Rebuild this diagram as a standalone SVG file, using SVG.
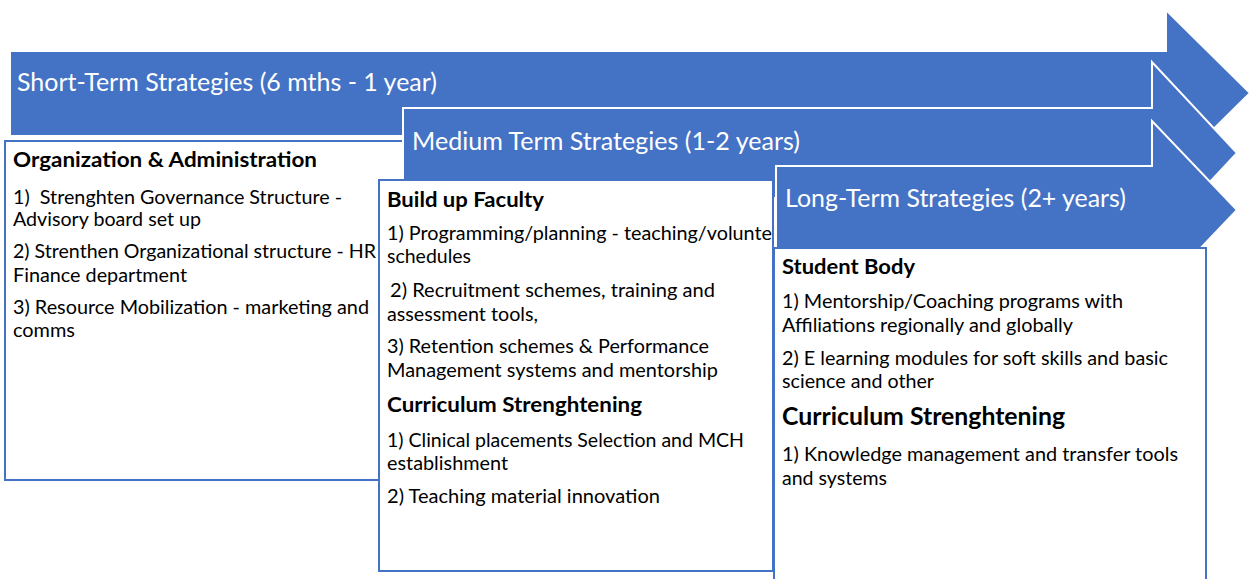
<svg xmlns="http://www.w3.org/2000/svg" width="1250" height="579" viewBox="0 0 1250 579">
  <style>
    .arrow { fill: #4472C4; stroke: #FFFFFF; stroke-width: 2; stroke-linejoin: miter; }
    .box { fill: #FFFFFF; stroke: #4472C4; stroke-width: 2; }
    .hdr { font-family: Lato, "Open Sans", sans-serif; font-size: 25px; fill: #FFFFFF; }
    .t { font-family: Lato, "Open Sans", sans-serif; font-size: 19.5px; fill: #000000; }
    .b { font-family: Lato, "Open Sans", sans-serif; font-size: 20.5px; font-weight: 700; fill: #000000; }
    .b2 { font-family: Lato, "Open Sans", sans-serif; font-size: 24px; font-weight: 700; fill: #000000; }
  </style>
  <rect width="1250" height="579" fill="#FFFFFF"/>

  <!-- Stage 1: short term -->
  <g id="stage-short">
    <g id="arrow-short">
      <polygon class="arrow" points="10,51 1166,51 1166,10 1250,93 1166,176 1166,136 10,136"/>
      <text class="hdr" x="17" y="91" textLength="420" lengthAdjust="spacingAndGlyphs">Short-Term Strategies (6 mths - 1 year)</text>
    </g>
    <g id="box-short">
      <rect class="box" x="5" y="141" width="398" height="339"/>
      <text class="b" x="13" y="167" textLength="304" lengthAdjust="spacingAndGlyphs">Organization &amp; Administration</text>
      <text class="t" x="13" y="204" textLength="329" lengthAdjust="spacingAndGlyphs" xml:space="preserve">1)  Strenghten Governance Structure -</text>
      <text class="t" x="13" y="226" textLength="188" lengthAdjust="spacingAndGlyphs">Advisory board set up</text>
      <text class="t" x="13" y="258" textLength="363" lengthAdjust="spacingAndGlyphs">2) Strenthen Organizational structure - HR</text>
      <text class="t" x="13" y="282" textLength="174" lengthAdjust="spacingAndGlyphs">Finance department</text>
      <text class="t" x="13" y="314" textLength="356" lengthAdjust="spacingAndGlyphs">3) Resource Mobilization - marketing and</text>
      <text class="t" x="13" y="337" textLength="62" lengthAdjust="spacingAndGlyphs">comms</text>
    </g>
  </g>

  <!-- Stage 2: medium term -->
  <g id="stage-medium">
    <g id="arrow-medium">
      <polygon class="arrow" points="403,108 1152,108 1152,62 1237,153 1152,244 1152,198 403,198"/>
      <text class="hdr" x="412" y="150" textLength="388" lengthAdjust="spacingAndGlyphs">Medium Term Strategies (1-2 years)</text>
    </g>
    <g id="box-medium">
      <rect class="box" x="379" y="180" width="394" height="391"/>
      <text class="b" x="387" y="207" textLength="157" lengthAdjust="spacingAndGlyphs">Build up Faculty</text>
      <text class="t" x="387" y="240" textLength="385" lengthAdjust="spacingAndGlyphs">1) Programming/planning - teaching/volunte</text>
      <text class="t" x="387" y="263" textLength="84" lengthAdjust="spacingAndGlyphs">schedules</text>
      <text class="t" x="390" y="297" textLength="325" lengthAdjust="spacingAndGlyphs">2) Recruitment schemes, training and</text>
      <text class="t" x="387" y="321" textLength="151" lengthAdjust="spacingAndGlyphs">assessment tools,</text>
      <text class="t" x="387" y="353" textLength="322" lengthAdjust="spacingAndGlyphs">3) Retention schemes &amp; Performance</text>
      <text class="t" x="387" y="377" textLength="331" lengthAdjust="spacingAndGlyphs">Management systems and mentorship</text>
      <text class="b" x="387" y="412" textLength="255" lengthAdjust="spacingAndGlyphs">Curriculum Strenghtening</text>
      <text class="t" x="387" y="447" textLength="357" lengthAdjust="spacingAndGlyphs">1) Clinical placements Selection and MCH</text>
      <text class="t" x="387" y="470" textLength="121" lengthAdjust="spacingAndGlyphs">establishment</text>
      <text class="t" x="387" y="503" textLength="273" lengthAdjust="spacingAndGlyphs">2) Teaching material innovation</text>
    </g>
  </g>

  <!-- Stage 3: long term -->
  <g id="stage-long">
    <g id="arrow-long">
      <polygon class="arrow" points="776,166 1152,166 1152,121 1237,210 1152,299 1152,255 776,255"/>
      <text class="hdr" x="785" y="207" textLength="341" lengthAdjust="spacingAndGlyphs">Long-Term Strategies (2+ years)</text>
    </g>
    <g id="box-long">
      <rect class="box" x="774" y="248" width="432" height="345"/>
      <text class="b" x="782" y="274" textLength="133" lengthAdjust="spacingAndGlyphs">Student Body</text>
      <text class="t" x="782" y="308" textLength="341" lengthAdjust="spacingAndGlyphs">1) Mentorship/Coaching programs with</text>
      <text class="t" x="782" y="332" textLength="291" lengthAdjust="spacingAndGlyphs">Affiliations regionally and globally</text>
      <text class="t" x="782" y="365" textLength="386" lengthAdjust="spacingAndGlyphs">2) E learning modules for soft skills and basic</text>
      <text class="t" x="782" y="388" textLength="152" lengthAdjust="spacingAndGlyphs">science and other</text>
      <text class="b2" x="782" y="425" textLength="283" lengthAdjust="spacingAndGlyphs">Curriculum Strenghtening</text>
      <text class="t" x="782" y="461" textLength="396" lengthAdjust="spacingAndGlyphs">1) Knowledge management and transfer tools</text>
      <text class="t" x="782" y="485" textLength="105" lengthAdjust="spacingAndGlyphs">and systems</text>
    </g>
  </g>
</svg>
